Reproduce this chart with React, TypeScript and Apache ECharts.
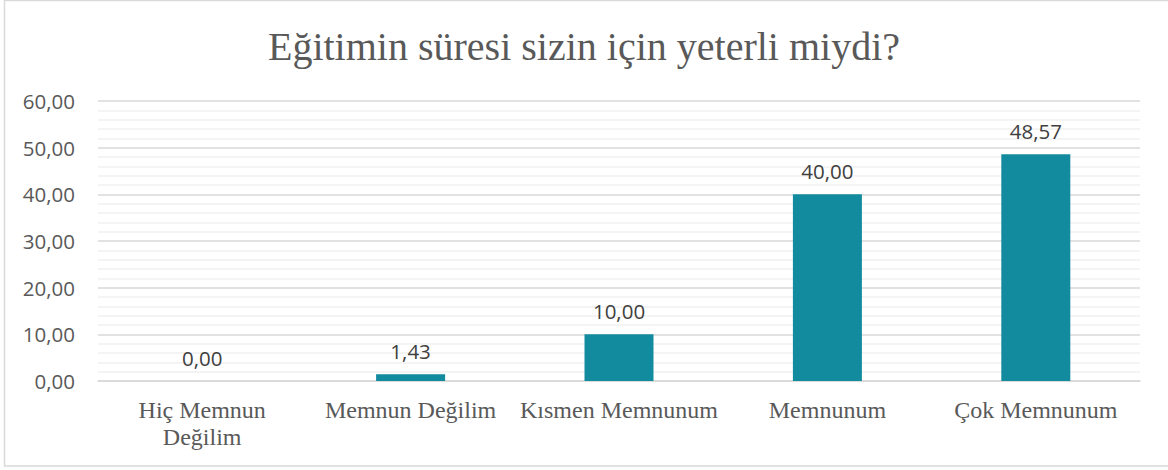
import React, { useEffect, useRef } from "react";
import * as echarts from "echarts";

const title = "Eğitimin süresi sizin için yeterli miydi?";
const categories = ["Hiç Memnun Değilim", "Memnun Değilim", "Kısmen Memnunum", "Memnunum", "Çok Memnunum"];
const values = [0.0, 1.43, 10.0, 40.0, 48.57];
const yMin = 0;
const yMax = 60;
const yInterval = 10;

const fmt = (v: number) => v.toFixed(2).replace(".", ",");

export default function App() {
  const ref = useRef<HTMLDivElement>(null);
  useEffect(() => {
    document.body.style.margin = "0";
    const chart = echarts.init(ref.current!, null, { renderer: "svg" });
    chart.setOption({
      animation: false,
      backgroundColor: "#ffffff",
      title: {
        text: title,
        left: "center",
        top: 21,
        textStyle: {
          fontFamily: "Liberation Serif",
          fontWeight: "normal",
          fontSize: 40,
          color: "#595959",
        },
      },
      graphic: [
        {
          type: "rect",
          shape: { x: 4.5, y: 0.5, width: 1170, height: 465.5 },
          style: { fill: "none", stroke: "#d9d9d9", lineWidth: 1.5 },
          silent: true,
          z: 100,
        },
      ],
      grid: { left: 98, right: 28, top: 101, bottom: 89, containLabel: false },
      xAxis: {
        type: "category",
        data: categories,
        axisLine: { show: true, lineStyle: { color: "#d9d9d9", width: 1.5 } },
        axisTick: { show: false },
        axisLabel: {
          interval: 0,
          margin: 15,
          fontFamily: "Liberation Serif",
          fontSize: 24,
          lineHeight: 27,
          color: "#595959",
          formatter: (s: string) => {
            if (s.length > 16) {
              const i = s.lastIndexOf(" ");
              return s.slice(0, i) + "\n" + s.slice(i + 1);
            }
            return s;
          },
        },
      },
      yAxis: {
        type: "value",
        min: yMin,
        max: yMax,
        interval: yInterval,
        axisLine: { show: false },
        axisTick: { show: false },
        axisLabel: {
          margin: 23,
          fontFamily: "Open Sans",
          fontSize: 20.5,
          color: "#595959",
          formatter: (v: number) => fmt(v),
        },
        splitLine: { show: true, lineStyle: { color: "#d9d9d9", width: 1.5 } },
        minorTick: { show: false, splitNumber: 5 },
        minorSplitLine: { show: true, lineStyle: { color: "#f0f0f0", width: 1.5 } },
      },
      series: [
        {
          type: "bar",
          data: values,
          barWidth: 69,
          itemStyle: { color: "#138b9f" },
          label: {
            show: true,
            position: "top",
            distance: 13,
            fontFamily: "Open Sans",
            fontSize: 20.5,
            color: "#404040",
            formatter: (p: any) => fmt(p.value),
          },
        },
      ],
    });
    return () => chart.dispose();
  }, []);
  return <div ref={ref} style={{ width: 1168, height: 470 }} />;
}
